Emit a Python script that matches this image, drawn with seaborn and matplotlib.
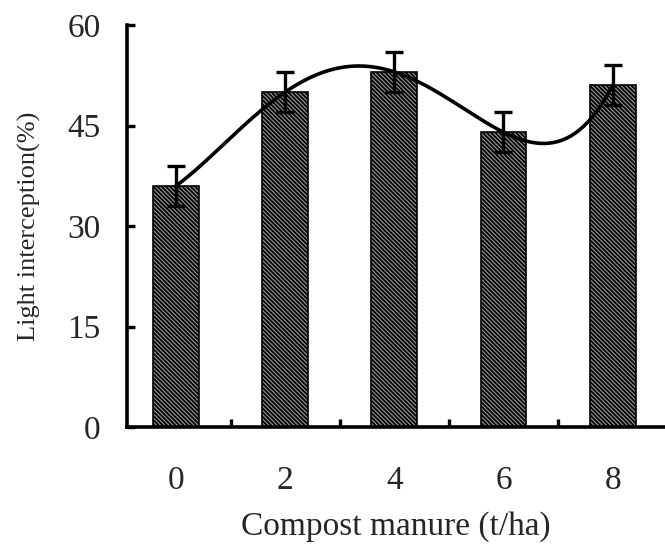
import numpy as np
import pandas as pd
import seaborn as sns
import matplotlib.pyplot as plt
from matplotlib.ticker import FixedLocator

# Data
doses = ['0', '2', '4', '6', '8']
dose_values = [0, 2, 4, 6, 8]
light_interception = [36, 50, 53, 44, 51]
errors = [3, 3, 3, 3, 3]

df = pd.DataFrame({'Dose': doses, 'Light': light_interception})

sns.set_style("white")
plt.rcParams['font.family'] = ['Liberation Serif', 'DejaVu Serif']
plt.rcParams['hatch.linewidth'] = 1.3

fig = plt.figure(figsize=(6.65, 5.47), dpi=100)
ax = fig.add_axes([127 / 665, 1 - 427 / 547, 538 / 665, 402 / 547])

sns.barplot(data=df, x='Dose', y='Light', ax=ax, width=0.42,
            color='#9a9a9a', edgecolor='black', linewidth=1.2,
            errorbar=None, hatch='\\\\\\\\\\\\\\\\')

pos = np.arange(len(doses))
ax.errorbar(pos, light_interception, yerr=errors, fmt='none',
            ecolor='black', elinewidth=2.4, capsize=6.5, capthick=2.4, zorder=4)

# polynomial trendline (order 4)
coef = np.polyfit(dose_values, light_interception, 4)
xs = np.linspace(0, 8, 200)
ax.plot(xs / 2, np.polyval(coef, xs), color='black', lw=2.6, zorder=5)

ax.set_xlim(-0.45, 4.48)
ax.set_ylim(0, 60)
ax.set_yticks([0, 15, 30, 45, 60])
ax.xaxis.set_minor_locator(FixedLocator([0.5, 1.5, 2.5, 3.5]))
ax.tick_params(axis='x', which='major', length=0, pad=28, labelsize=24)
ax.tick_params(axis='x', which='minor', direction='in', length=6, width=2.4,
               bottom=True, color='black')
ax.tick_params(axis='y', which='major', direction='in', length=6, width=2.4,
               left=True, labelsize=24, pad=19, color='black')

for s in ['top', 'right']:
    ax.spines[s].set_visible(False)
for s in ['left', 'bottom']:
    ax.spines[s].set_linewidth(2.6)
    ax.spines[s].set_color('black')

ax.set_xlabel('Compost manure (t/ha)', fontsize=24, labelpad=11)
ax.set_ylabel('Light interception(%)', fontsize=19, labelpad=19)

fig.savefig('out.png', dpi=100)
